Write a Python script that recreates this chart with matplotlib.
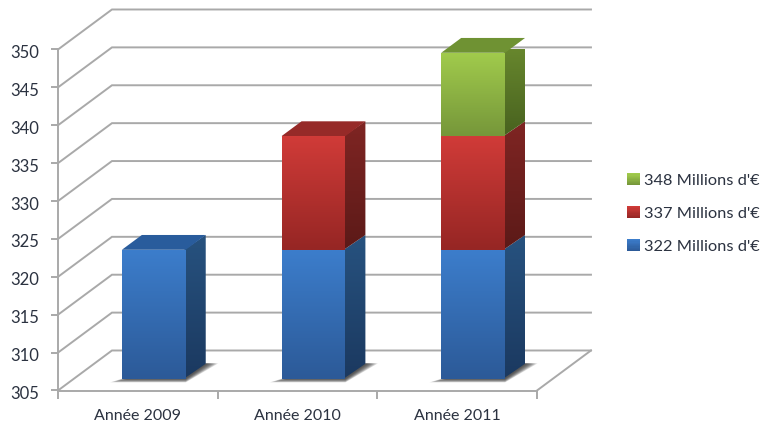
import numpy as np
import matplotlib
matplotlib.use('Agg')
import matplotlib.pyplot as plt
from matplotlib.patches import Polygon, Rectangle
from matplotlib.legend_handler import HandlerBase
from matplotlib.colors import LinearSegmentedColormap
from matplotlib.transforms import ScaledTranslation

plt.rcParams['font.family'] = ['Lato', 'DejaVu Sans']

years = ['Année 2009', 'Année 2010', 'Année 2011']
y_ticks = [305, 310, 315, 320, 325, 330, 335, 340, 345, 350]
series_names = ["322 Millions d'€", "337 Millions d'€", "348 Millions d'€"]
# top of each stacked segment, nan = nothing for that year
tops_322 = [322, 322, 322]
tops_337 = [np.nan, 337, 337]
tops_348 = [np.nan, np.nan, 348]

# front (top,bottom), side (top,bottom), cap
blue = ('#3c7dcb', '#2c5a98', '#27527f', '#1b3960', '#295c9c')
red = ('#d03b38', '#962624', '#7f2523', '#5c1a18', '#962a28')
green = ('#a1cb4c', '#76973a', '#6b8b2f', '#48621f', '#6f9233')

W, H = 763, 426
fig = plt.figure(figsize=(W / 100, H / 100), dpi=100)
ax = fig.add_axes([58 / W, 1 - 390.5 / H, (537 - 58) / W, 341 / H])
ax.set_xlim(0, 3)
ax.set_ylim(305, 350)

# oblique projection of the depth direction, in data units
DX = 0.338
DY = 5.28
D0 = 0.32
D1 = 0.69
BAR_SHIFT = -0.008
BAR_W = 0.40
GREY = '#a9a9a9'
TXT = '#2b3240'


def proj(x, v, d):
    return x + d * DX, v + d * DY


def grad(c1, c2):
    return LinearSegmentedColormap.from_list('g', [c1, c2])(np.linspace(0, 1, 64))[:, None, :]


def fill(pts, c1, c2, zorder):
    pts = np.array(pts)
    poly = Polygon(pts, transform=ax.transData, closed=True)
    im = ax.imshow(grad(c1, c2), aspect='auto', zorder=zorder, interpolation='bilinear',
                   extent=[pts[:, 0].min(), pts[:, 0].max(), pts[:, 1].min(), pts[:, 1].max()])
    im.set_clip_path(poly)
    im.set_clip_box(None)


def segment(i, v0, v1, cols, cap, z):
    x0 = i + 0.5 - BAR_W / 2 + BAR_SHIFT
    x1 = x0 + BAR_W
    # values are read on the front face, so keep them as they are there
    off = -D0 * DY + 1.57
    fill([proj(x0, v0 + off, D0), proj(x1, v0 + off, D0), proj(x1, v1 + off, D0), proj(x0, v1 + off, D0)],
         cols[0], cols[1], z + 0.2)
    # side overlaps the front a little so no white sliver shows between them
    fill([proj(x1 - 0.01, v0 + off, D0), proj(x1, v0 + off, D1), proj(x1, v1 + off, D1), proj(x1 - 0.01, v1 + off, D0)],
         cols[2], cols[3], z + 0.1)
    if cap:
        ax.add_patch(Polygon([proj(x0, v1 + off, D0), proj(x1, v1 + off, D0), proj(x1, v1 + off, D1), proj(x0, v1 + off, D1)],
                             facecolor=cols[4], edgecolor='none', zorder=z + 0.1, clip_on=False))


def shadow(i):
    x0 = i + 0.5 - BAR_W / 2 + BAR_SHIFT
    x1 = x0 + BAR_W
    off = -D0 * DY + 1.57
    for k in range(10):
        g = 0.075 * (10 - k) / 10
        low = 305 + off - 0.05 * (10 - k)
        pts = [proj(x0 - g, low, D0), proj(x1, low, D0),
               proj(x1 + g, 305 + off, D1 + 0.01), proj(x1, 305 + off, D1 + 0.01)]
        ax.add_patch(Polygon(pts, facecolor='#303030', edgecolor='none', alpha=0.15,
                             zorder=3, clip_on=False))


# walls
for v in y_ticks:
    ax.plot([0, DX, 3 + DX], [v, v + DY, v + DY], color=GREY, lw=1.4, zorder=1,
            clip_on=False, solid_joinstyle='miter')
ax.plot([3, 3 + DX], [305, 305 + DY], color=GREY, lw=1.4, zorder=1, clip_on=False)

for i in range(len(years)):
    shadow(i)
    segment(i, 305, tops_322[i], blue, np.isnan(tops_337[i]), 4)
    if not np.isnan(tops_337[i]):
        segment(i, tops_322[i], tops_337[i], red, np.isnan(tops_348[i]), 5)
    if not np.isnan(tops_348[i]):
        segment(i, tops_337[i], tops_348[i], green, True, 6)

ax.patch.set_visible(False)
for s in ['top', 'right']:
    ax.spines[s].set_visible(False)
for s in ['left', 'bottom']:
    ax.spines[s].set_color(GREY)
    ax.spines[s].set_linewidth(1.4)
    ax.spines[s].set_zorder(8)

ax.set_yticks(y_ticks)
ax.set_xticks([0, 1, 2, 3])
ax.set_xticklabels([])
ax.set_xticks([0.5, 1.5, 2.5], labels=years, minor=True)
ax.tick_params(axis='y', length=5, width=1.4, color=GREY, labelsize=12, labelcolor=TXT, pad=8.5)
ax.tick_params(axis='x', which='major', length=6, width=1.4, color=GREY)
ax.tick_params(axis='x', which='minor', length=0, labelsize=11.5, labelcolor=TXT, pad=13)
# the labels sit a touch below their tick in the reference
for lab in ax.get_yticklabels():
    lab.set_transform(lab.get_transform() + ScaledTranslation(0, -2 / 100, fig.dpi_scale_trans))


class GradHandler(HandlerBase):
    def __init__(self, c1, c2):
        super().__init__()
        self.c1, self.c2 = c1, c2

    def create_artists(self, legend, orig, xd, yd, w, h, fontsize, trans):
        n = 10
        cs = grad(self.c1, self.c2)[np.linspace(0, 63, n).astype(int), 0]
        return [Rectangle((-xd, -yd + h * (n - 1 - k) / n), w, h / n * 1.05, facecolor=cs[k],
                          edgecolor='none', transform=trans) for k in range(n)]


h_blue, h_red, h_green = [Rectangle((0, 0), 1, 1) for _ in range(3)]
leg = fig.legend([h_green, h_red, h_blue], series_names[::-1], loc='center left',
                 bbox_to_anchor=(627 / W, 1 - 213.5 / H), frameon=False, fontsize=11.8,
                 labelcolor=TXT, handlelength=0.8, handleheight=0.78, handletextpad=0.25,
                 labelspacing=1.1, borderpad=0, borderaxespad=0,
                 handler_map={h_green: GradHandler(green[0], green[1]),
                              h_red: GradHandler(red[0], red[1]),
                              h_blue: GradHandler(blue[0], blue[1])})

fig.savefig('out.png', dpi=100)
